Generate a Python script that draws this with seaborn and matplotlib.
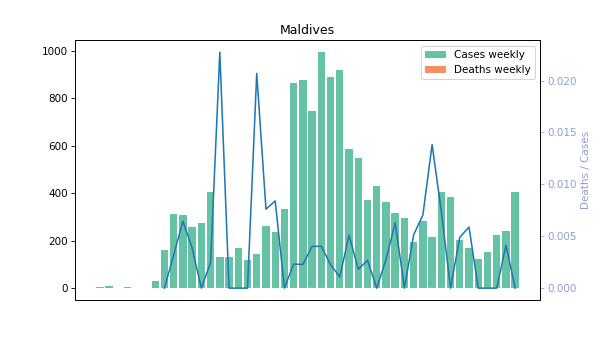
import warnings
warnings.filterwarnings("ignore")
import numpy as np
import matplotlib
matplotlib.use("Agg")
import matplotlib.pyplot as plt
import seaborn as sns

title = "Maldives"
weeks = list(range(46))
cases = [4, 11, 0, 4, 0, 0, 32, 162, 314, 310, 259, 276, 403, 132, 132, 170,
         119, 145, 263, 238, 335, 863, 876, 745, 994, 888, 918, 588, 550, 373,
         432, 365, 318, 297, 195, 284, 217, 407, 386, 204, 170, 124, 153, 225,
         242, 407]
deaths = [np.nan] * 7 + [0, 1, 2, 1, 0, 1, 3, 0, 0, 0, 3, 2, 2, 0, 2, 2, 3,
                         4, 2, 1, 3, 1, 1, 0, 1, 2, 0, 1, 2, 3, 3, 0, 1, 1, 0,
                         0, 0, 1, 0]

cases_arr = np.array(cases, dtype=float)
deaths_arr = np.array(deaths, dtype=float)
with np.errstate(divide="ignore", invalid="ignore"):
    ratio = deaths_arr / cases_arr
deaths_bars = np.nan_to_num(deaths_arr, nan=0.0)

fig, ax = plt.subplots(figsize=(8, 337 / 75), dpi=75)
sns.barplot(x=weeks, y=cases, color="#66c2a5", saturation=1, errorbar=None,
            width=0.8, label="Cases weekly", ax=ax)
sns.barplot(x=weeks, y=list(deaths_bars), color="#fc8d62", saturation=1,
            errorbar=None, width=0.8, label="Deaths weekly", ax=ax)
ax.legend(loc="upper right")
ax.set_title(title)
ax.set_xlabel("")
ax.set_ylabel("")

ax2 = ax.twinx()
sns.lineplot(x=weeks, y=ratio, color="#1f77b4", linewidth=1.5, ax=ax2)
ax2.set_ylabel("Deaths / Cases", color="#8da0cb")
ax2.tick_params(axis="y", colors="#8da0cb")

n = len(weeks)
span = (n - 1) + 0.8
ax.set_xlim(-0.4 - 0.05 * span, n - 1 + 0.4 + 0.05 * span)
ymax = max(cases)
ax.set_ylim(-0.05 * ymax, 1.05 * ymax)
rmax = np.nanmax(ratio)
ax2.set_ylim(-0.05 * rmax, 1.05 * rmax)
ax.set_xticks([])
ax2.set_xticks([])
ax.set_yticks([0, 200, 400, 600, 800, 1000])

fig.savefig("out.png", dpi=75)
